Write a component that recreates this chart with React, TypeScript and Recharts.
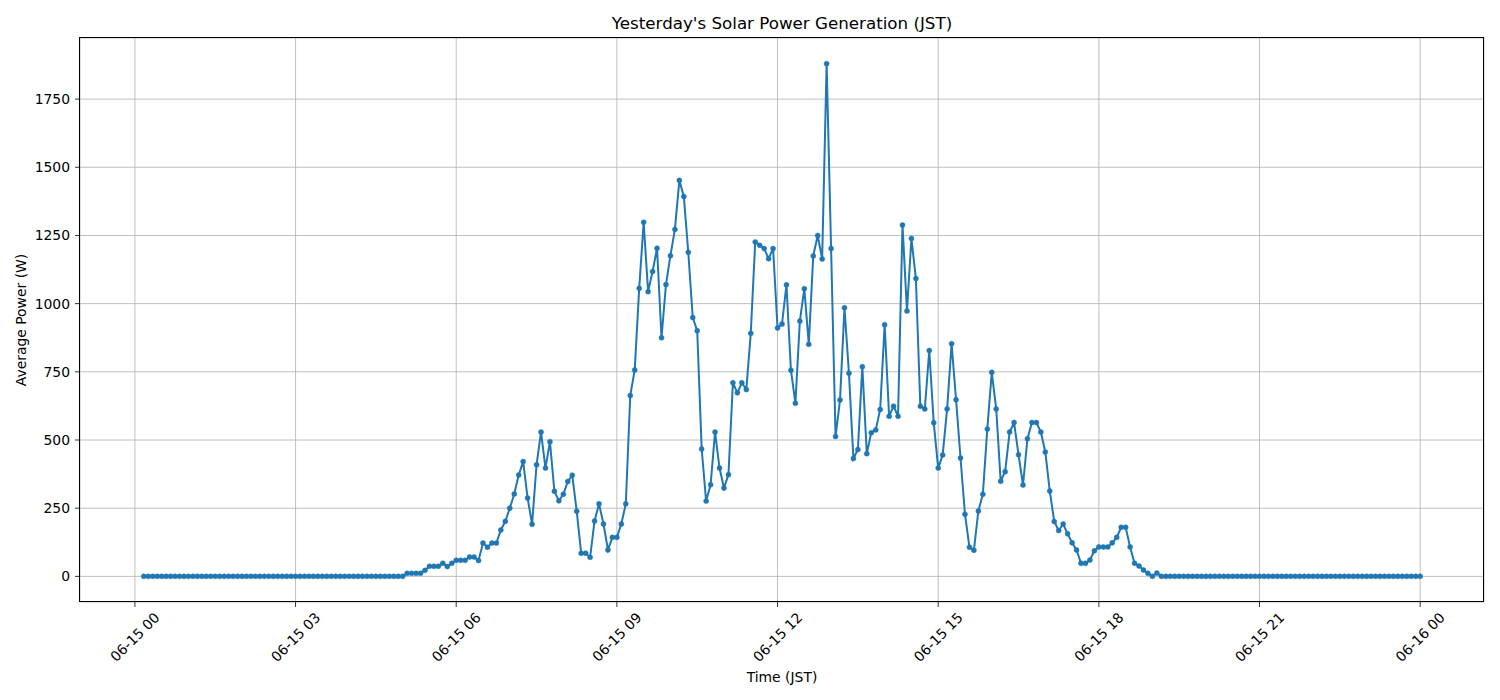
import React from 'react';
import {
  LineChart,
  Line,
  XAxis,
  YAxis,
  CartesianGrid,
} from 'recharts';

// Sampling: one reading every 5 minutes, first at 00:10, last at 24:00 (minutes since 06-15 00:00)
const START_MINUTE = 10;
const STEP_MINUTES = 5;

// 00:10 – 05:00
const nightBefore: number[] = [
  0, 0, 0, 0, 0, 0, 0, 0, 0, 0, 0, 0, 0, 0, 0, 0, 0, 0, 0, 0,
  0, 0, 0, 0, 0, 0, 0, 0, 0, 0, 0, 0, 0, 0, 0, 0, 0, 0, 0, 0,
  0, 0, 0, 0, 0, 0, 0, 0, 0, 0, 0, 0, 0, 0, 0, 0, 0, 0, 0,
];

// 05:05 – 09:00
const morning: number[] = [
  11, 11, 11, 11, 22, 37, 37, 37, 48, 36, 48, 59,
  59, 59, 71, 71, 58, 122, 107, 122, 122, 170, 202, 250,
  302, 372, 421, 287, 191, 409, 529, 397, 494, 312, 277, 301,
  348, 371, 239, 85, 85, 70, 203, 266, 192, 97, 143, 143,
];

// 09:05 – 13:00
const midday: number[] = [
  192, 266, 663, 757, 1056, 1298, 1044, 1118, 1203, 875, 1070, 1176,
  1272, 1452, 1393, 1188, 949, 901, 467, 276, 336, 529, 397, 324,
  373, 710, 673, 710, 685, 891, 1226, 1214, 1202, 1165, 1202, 911,
  925, 1069, 756, 635, 936, 1055, 851, 1175, 1250, 1164, 1880, 1202,
];

// 13:05 – 17:00
const afternoon: number[] = [
  513, 647, 985, 745, 432, 465, 769, 450, 527, 537, 612, 923,
  587, 624, 587, 1288, 973, 1239, 1092, 624, 614, 828, 563, 397,
  445, 614, 853, 648, 434, 228, 107, 96, 240, 301, 540, 748,
  614, 349, 384, 529, 564, 446, 335, 505, 564, 564, 529, 456,
];

// 17:05 – 19:05
const evening: number[] = [
  313, 201, 168, 192, 156, 123, 97, 48, 48, 60, 94, 108,
  108, 108, 123, 143, 180, 180, 108, 48, 38, 23, 11, 0,
  12,
];

// 19:10 – 24:00
const nightAfter: number[] = [
  0, 0, 0, 0, 0, 0, 0, 0, 0, 0, 0, 0, 0, 0, 0, 0, 0, 0, 0, 0,
  0, 0, 0, 0, 0, 0, 0, 0, 0, 0, 0, 0, 0, 0, 0, 0, 0, 0, 0, 0,
  0, 0, 0, 0, 0, 0, 0, 0, 0, 0, 0, 0, 0, 0, 0, 0, 0, 0, 0,
];

const xTicks = [0, 180, 360, 540, 720, 900, 1080, 1260, 1440];
const yTicks = [0, 250, 500, 750, 1000, 1250, 1500, 1750];

const powerSeries = [
  ...nightBefore,
  ...morning,
  ...midday,
  ...afternoon,
  ...evening,
  ...nightAfter,
];

const data = powerSeries.map((power, i) => ({
  minute: START_MINUTE + i * STEP_MINUTES,
  power,
}));

// Axis ranges padded by 5% of the data span on each side
const firstMinute = data[0].minute;
const lastMinute = data[data.length - 1].minute;
const xPad = (lastMinute - firstMinute) * 0.05;
const xDomain: [number, number] = [firstMinute - xPad, lastMinute + xPad];
const maxPower = Math.max(...powerSeries);
const yPad = maxPower * 0.05;
const yDomain: [number, number] = [-yPad, maxPower + yPad];

const FONT = '"DejaVu Sans", sans-serif';
const BLUE = '#1f77b4';

// Plot area box
const PLOT = { left: 80, top: 38, right: 1484, bottom: 602 };

const pad2 = (n: number) => (n < 10 ? `0${n}` : `${n}`);
const formatTime = (m: number) => {
  const day = 15 + Math.floor(m / 1440);
  const hour = Math.floor((m % 1440) / 60);
  return `06-${day} ${pad2(hour)}`;
};

const RotatedTick = (props: any) => {
  const { x, y, payload } = props;
  const cy = y + 30;
  return (
    <text
      x={x}
      y={cy}
      textAnchor="middle"
      dominantBaseline="central"
      transform={`rotate(-45, ${x}, ${cy})`}
      fontSize={13.9}
      fontFamily={FONT}
      fill="#000"
    >
      {formatTime(payload.value)}
    </text>
  );
};

export default function App() {
  const width = 1500;
  const height = 700;
  return (
    <div
      style={{
        position: 'absolute',
        left: 0,
        top: 0,
        width,
        height,
        background: '#fff',
        fontFamily: FONT,
      }}
    >
      <div
        style={{
          position: 'absolute',
          left: PLOT.left,
          width: PLOT.right - PLOT.left,
          top: 13,
          textAlign: 'center',
          fontSize: 16.7,
          lineHeight: '20px',
          color: '#000',
          fontFamily: FONT,
        }}
      >
        Yesterday's Solar Power Generation (JST)
      </div>
      <LineChart
        width={width}
        height={height}
        data={data}
        margin={{ top: PLOT.top, right: width - PLOT.right, bottom: 0, left: 0 }}
      >
        <CartesianGrid stroke="#b0b0b0" strokeWidth={0.8} />
        <XAxis
          dataKey="minute"
          type="number"
          domain={xDomain}
          allowDataOverflow
          ticks={xTicks}
          interval={0}
          height={height - PLOT.bottom}
          tickSize={5}
          tickMargin={0}
          tickLine={{ stroke: '#000', strokeWidth: 0.8 }}
          axisLine={false}
          tick={<RotatedTick />}
          label={{
            content: () => (
              <text
                x={782}
                y={677}
                textAnchor="middle"
                dominantBaseline="central"
                fontSize={13.9}
                fontFamily={FONT}
                fill="#000"
              >
                Time (JST)
              </text>
            ),
          }}
        />
        <YAxis
          type="number"
          domain={yDomain}
          allowDataOverflow
          ticks={yTicks}
          interval={0}
          width={PLOT.left}
          tickSize={5}
          tickMargin={5}
          tickLine={{ stroke: '#000', strokeWidth: 0.8 }}
          axisLine={false}
          tick={{ fontSize: 13.9, fontFamily: FONT, fill: '#000' }}
          label={{
            content: () => (
              <text
                x={21}
                y={320}
                textAnchor="middle"
                dominantBaseline="central"
                transform="rotate(-90, 21, 320)"
                fontSize={13.9}
                fontFamily={FONT}
                fill="#000"
              >
                Average Power (W)
              </text>
            ),
          }}
        />
        <Line
          type="linear"
          dataKey="power"
          stroke={BLUE}
          strokeWidth={2}
          dot={{ r: 2.5, fill: BLUE, stroke: BLUE, strokeWidth: 0.5 }}
          activeDot={false}
          isAnimationActive={false}
        />
      </LineChart>
      {/* axes frame */}
      <div
        style={{
          position: 'absolute',
          left: PLOT.left - 1,
          top: PLOT.top - 1,
          width: PLOT.right - PLOT.left + 1,
          height: PLOT.bottom - PLOT.top + 1,
          boxSizing: 'border-box',
          border: '1px solid #000',
          pointerEvents: 'none',
        }}
      />
    </div>
  );
}
